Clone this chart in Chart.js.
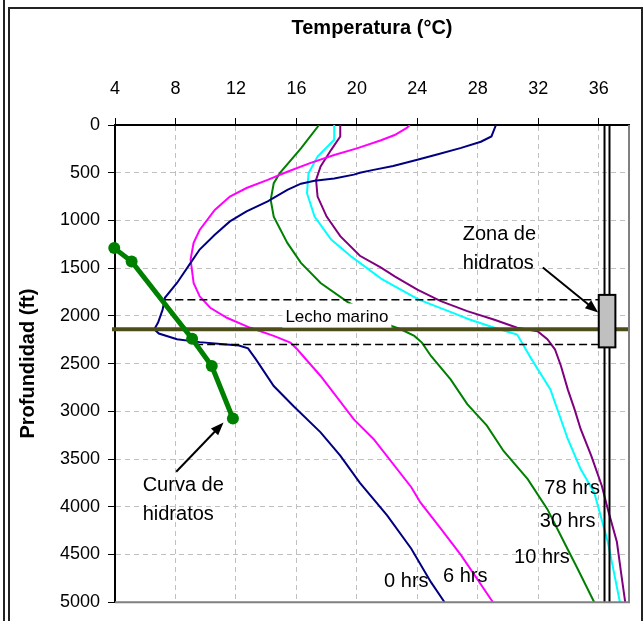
<!DOCTYPE html>
<html>
<head>
<meta charset="utf-8">
<script src="https://cdn.jsdelivr.net/npm/chart.js@4.4.1/dist/chart.umd.min.js"></script>
<style>
  html, body { margin: 0; padding: 0; background: #fff; }
  #wrap { position: relative; width: 644px; height: 621px; overflow: hidden; }
  #chart { position: absolute; left: 0; top: 0; }
  .frame { position: absolute; left: 8px; top: 7px; width: 631px; height: 640px; border: 2px solid #222; border-bottom: none; pointer-events: none; }
  .edge { position: absolute; left: 3px; top: 0; width: 2px; height: 621px; background: #222; }
</style>
</head>
<body>
<div id="wrap">
  <canvas id="chart" width="644" height="621"></canvas>
  <div class="edge"></div>
  <div class="frame"></div>
</div>
<script>
const family = '"Liberation Sans", Arial, sans-serif';

// temperature ticks (top axis) in degC
const xTicks = [4, 8, 12, 16, 20, 24, 28, 32, 36];

// 0 hrs
const depth0 = [0, 120, 175, 240, 310, 365, 430, 470, 500, 520, 560, 585, 615, 680, 800, 905, 1010, 1150, 1305, 1445, 1655, 1810, 1935, 2070, 2140, 2185, 2245, 2275, 2295, 2310, 2340, 2450, 2735, 2945, 3220, 3465, 3750, 4090, 4440, 4790, 5000];
const temp0 = [29.2, 28.9, 28.2, 26.9, 25.3, 24.0, 22.4, 21.1, 20.2, 19.8, 18.5, 17.2, 16.3, 15.4, 14.1, 12.7, 11.6, 10.6, 9.6, 9.0, 8.1, 7.3, 7.15, 6.85, 6.6, 6.9, 8.1, 9.6, 11.0, 12.2, 12.8, 13.3, 14.5, 15.8, 17.6, 18.9, 20.2, 22.0, 23.6, 24.9, 25.8];

// 6 hrs
const depth6 = [0, 30, 105, 160, 245, 315, 400, 490, 575, 660, 750, 890, 1100, 1235, 1410, 1655, 1795, 1915, 2020, 2125, 2210, 2280, 2350, 2630, 3085, 3290, 3795, 3955, 4230, 4510, 5000];
const temp6 = [23.5, 23.3, 22.5, 21.6, 20.0, 18.5, 16.9, 15.4, 14.1, 12.7, 11.6, 10.6, 9.6, 9.2, 9.0, 9.2, 9.6, 10.3, 11.4, 12.95, 14.5, 15.6, 16.05, 17.6, 19.8, 21.1, 23.6, 24.2, 25.55, 26.9, 29.0];

// 10 hrs
const depth10 = [0, 245, 505, 610, 785, 960, 1235, 1445, 1655, 1855, 2105, 2140, 2210, 2280, 2420, 2665, 2925, 3150, 3415, 3710, 4025, 4370, 4650, 5000];
const temp10 = [17.5, 16.3, 14.9, 14.5, 14.3, 14.5, 15.4, 16.3, 17.6, 19.4, 22.3, 22.9, 23.8, 24.3, 24.9, 26.2, 27.3, 28.6, 29.7, 31.3, 32.6, 33.7, 34.6, 35.7];

// 30 hrs
const depth30 = [0, 155, 330, 505, 715, 960, 1200, 1375, 1445, 1610, 1725, 1830, 1935, 2040, 2125, 2195, 2290, 2440, 2770, 3290, 3605, 3850, 4370, 5000];
const temp30 = [18.5, 18.5, 17.4, 16.8, 16.7, 17.2, 18.3, 19.6, 20.2, 21.6, 22.9, 24.1, 25.8, 27.5, 29.1, 30.6, 30.95, 31.5, 32.8, 33.95, 34.8, 35.7, 36.6, 37.4];

// 78 hrs
const depth78 = [0, 120, 260, 435, 575, 750, 960, 1165, 1370, 1495, 1585, 1725, 1845, 1950, 2040, 2125, 2160, 2245, 2350, 2525, 2770, 2980, 3185, 3465, 3780, 4025, 4370, 4720, 5000];
const temp78 = [18.9, 18.9, 18.3, 17.6, 17.3, 17.4, 18.0, 18.9, 20.2, 21.6, 22.5, 24.0, 25.55, 27.3, 29.1, 30.6, 31.95, 32.6, 33.1, 33.5, 33.95, 34.4, 34.8, 35.5, 36.2, 36.6, 37.2, 37.5, 37.75];

// hydrate stability curve
const hydrateTemp = [3.95, 5.1, 9.1, 10.4, 11.8];
const hydrateDepth = [1290, 1430, 2240, 2525, 3075];

// reference depths (ft)
const seabedDepth = 2140;
const zoneTopDepth = 1830;
const zoneBaseDepth = 2300;
const zoneBox = [1780, 2330];      // depth range of the grey well box
const boxTemps = [36.0, 37.1];
const wellTemps = [36.38, 36.71];

// text labels
const seriesLabels = ['0 hrs', '6 hrs', '10 hrs', '30 hrs', '78 hrs'];
const labelTemp = [21.8, 25.7, 30.4, 32.1, 32.4];
const labelDepth = [4780, 4730, 4535, 4155, 3805];

const toPoints = (temps, depths) => temps.map((t, i) => ({x: t, y: depths[i]}));

const curve = (label, temps, depths, color) => ({
    label,
    data: toPoints(temps, depths),
    showLine: true,
    borderColor: color,
    borderWidth: 2,
    pointRadius: 0,
    tension: 0
});

const refLine = (temps, depth, color, width, dash, clip) => ({
    data: temps.map((t) => ({x: t, y: depth})),
    showLine: true,
    borderColor: color,
    borderWidth: width,
    borderDash: dash,
    pointRadius: 0,
    clip: clip
});

function arrow(ctx, x1, y1, x2, y2) {
    const a = Math.atan2(y2 - y1, x2 - x1);
    const c = Math.cos(a), s = Math.sin(a);
    ctx.beginPath();
    ctx.moveTo(x1, y1);
    ctx.lineTo(x2 - 9 * c, y2 - 9 * s);
    ctx.stroke();
    ctx.beginPath();
    ctx.moveTo(x2, y2);
    ctx.lineTo(x2 - 13 * c + 5 * s, y2 - 13 * s - 5 * c);
    ctx.lineTo(x2 - 13 * c - 5 * s, y2 - 13 * s + 5 * c);
    ctx.closePath();
    ctx.fill();
}

const overlay = {
    id: 'overlay',
    afterDatasetsDraw(chart) {
        const {ctx, chartArea: area, scales: {x, y}} = chart;
        const px = (t) => x.getPixelForValue(t);
        const py = (d) => y.getPixelForValue(d);
        ctx.save();

        // "Lecho marino" with white background
        ctx.font = `17px ${family}`;
        ctx.textBaseline = 'middle';
        ctx.textAlign = 'left';
        const lx = px(15.27), ly = py(2017);
        const lw = ctx.measureText('Lecho marino').width;
        ctx.fillStyle = '#fff';
        ctx.fillRect(lx - 3, ly - 14, lw + 6, 24);
        ctx.fillStyle = '#000';
        ctx.fillText('Lecho marino', lx, ly);

        // grey box around the well in the hydrate zone
        ctx.fillStyle = '#c0c0c0';
        ctx.strokeStyle = '#000';
        ctx.lineWidth = 2;
        const bx = px(boxTemps[0]), by = py(zoneBox[0]);
        const bw = px(boxTemps[1]) - bx, bh = py(zoneBox[1]) - by;
        ctx.fillRect(bx, by, bw, bh);
        ctx.strokeRect(bx, by, bw, bh);

        // series labels
        ctx.font = `20px ${family}`;
        ctx.fillStyle = '#000';
        seriesLabels.forEach((txt, i) => ctx.fillText(txt, px(labelTemp[i]), py(labelDepth[i])));

        ctx.fillText('Zona de', px(27.0), py(1150));
        ctx.fillText('hidratos', px(27.0), py(1452));
        ctx.fillText('Curva de', px(5.83), py(3779));
        ctx.fillText('hidratos', px(5.83), py(4086));

        ctx.lineWidth = 2;
        arrow(ctx, px(32.3), py(1494), px(35.96), py(1964));
        arrow(ctx, px(8.05), py(3633), px(11.18), py(3117));

        // plot area border on the right and bottom
        ctx.strokeStyle = '#808080';
        ctx.lineWidth = 2;
        ctx.beginPath();
        ctx.moveTo(area.right, area.top);
        ctx.lineTo(area.right, area.bottom);
        ctx.lineTo(area.left, area.bottom);
        ctx.stroke();
        ctx.restore();
    }
};

new Chart(document.getElementById('chart'), {
    type: 'scatter',
    data: {
        datasets: [
            {
                data: toPoints(hydrateTemp, hydrateDepth),
                showLine: true,
                borderColor: '#008000',
                backgroundColor: '#008000',
                borderWidth: 5,
                pointRadius: 6,
                pointBorderWidth: 0,
                clip: false
            },
            refLine([3.8, 38], seabedDepth, '#4d4d1a', 4, [], false),
            refLine([7.2, 36.0], zoneTopDepth, '#000', 1.5, [8, 4], true),
            refLine([9.3, 36.0], zoneBaseDepth, '#000', 1.5, [8, 4], true),
            {data: [{x: wellTemps[0], y: 0}, {x: wellTemps[0], y: 5000}], showLine: true, borderColor: '#000', borderWidth: 2, pointRadius: 0},
            {data: [{x: wellTemps[1], y: 0}, {x: wellTemps[1], y: 5000}], showLine: true, borderColor: '#000', borderWidth: 2, pointRadius: 0},
            curve('0 hrs', temp0, depth0, '#000080'),
            curve('6 hrs', temp6, depth6, '#ff00ff'),
            curve('10 hrs', temp10, depth10, '#008000'),
            curve('30 hrs', temp30, depth30, '#00ffff'),
            curve('78 hrs', temp78, depth78, '#800080')
        ]
    },
    options: {
        responsive: false,
        animation: false,
        layout: {padding: {left: 0, top: 0, right: 15, bottom: 17}},
        plugins: {
            legend: {display: false},
            tooltip: {enabled: false}
        },
        scales: {
            x: {
                type: 'linear',
                position: 'top',
                min: 4,
                max: 38,
                afterBuildTicks: (scale) => { scale.ticks = xTicks.map((v) => ({value: v})); },
                afterFit: (scale) => { scale.height = 125; },
                grid: {color: '#c0c0c0', lineWidth: 1, tickColor: '#000', tickLength: 7},
                border: {color: '#000', width: 2, dash: [5, 4]},
                ticks: {color: '#000', font: {size: 18, family}, padding: 18, maxRotation: 0, callback: (v) => String(v)},
                title: {display: true, text: 'Temperatura (°C)', color: '#000', font: {size: 20, weight: 'bold', family}, padding: {top: 16}}
            },
            y: {
                type: 'linear',
                reverse: true,
                min: 0,
                max: 5000,
                afterFit: (scale) => { scale.width = 115; },
                grid: {color: '#c0c0c0', lineWidth: 1, tickColor: '#000', tickLength: 7},
                border: {color: '#000', width: 2, dash: [5, 4]},
                ticks: {stepSize: 500, color: '#000', font: {size: 18, family}, padding: 8, callback: (v) => String(v)},
                title: {display: true, text: 'Profundidad (ft)', color: '#000', font: {size: 20, weight: 'bold', family}, padding: {top: 16}}
            }
        }
    },
    plugins: [overlay]
});
</script>
</body>
</html>
